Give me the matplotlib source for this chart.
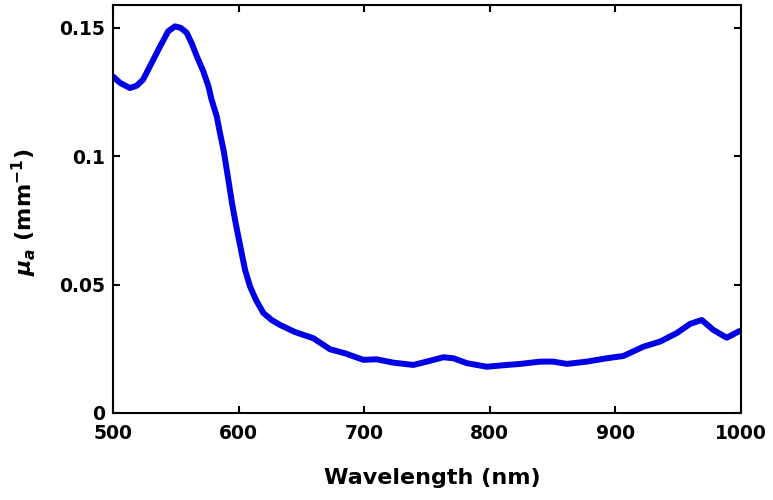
import matplotlib
matplotlib.use("Agg")
import matplotlib.pyplot as plt

# absorption spectrum
wavelength = [500, 505.6, 513.5, 518.9, 524, 530.8, 537.5, 544, 549.4, 553.9,
              558.7, 562.6, 566.7, 571.9, 576, 578.5, 582.6, 585.2, 588, 590.6,
              592.7, 594.8, 597.2, 599.8, 602.5, 605.2, 609.2, 613.9, 619.8, 626.4,
              633, 645, 659.6, 672.9, 685, 699.4, 710, 723.3, 739.3, 749.9,
              763.2, 771.2, 781.8, 797.8, 813.7, 824.3, 840.2, 850.8, 861.5, 877.4,
              893.3, 906.6, 922.5, 935.8, 949.1, 959.7, 969, 978.3, 988.9, 998.2,
              1000]
mua = [0.131, 0.1285, 0.1265, 0.1274, 0.1298, 0.1363, 0.1427, 0.1486, 0.1505, 0.1499,
       0.148, 0.144, 0.1389, 0.133, 0.1272, 0.122, 0.1155, 0.109, 0.1025, 0.0947,
       0.0882, 0.0817, 0.0752, 0.0687, 0.0622, 0.0557, 0.0492, 0.044, 0.0389, 0.0362,
       0.0343, 0.0315, 0.0291, 0.0248, 0.0232, 0.0207, 0.0209, 0.0196, 0.0187, 0.0200,
       0.0217, 0.0213, 0.0194, 0.0180, 0.0187, 0.0191, 0.0200, 0.0200, 0.0191, 0.0200,
       0.0213, 0.0222, 0.0258, 0.0278, 0.0311, 0.0347, 0.0362, 0.0323, 0.0293, 0.0317,
       0.0320]

xticks = [500, 600, 700, 800, 900, 1000]
yticks = [0, 0.05, 0.1, 0.15]
ytick_labels = ["0", "0.05", "0.1", "0.15"]

plt.rcParams['font.family'] = ['DejaVu Sans']
plt.rcParams['font.weight'] = 'bold'
plt.rcParams['mathtext.fontset'] = 'custom'
plt.rcParams['mathtext.rm'] = 'DejaVu Sans:bold'
plt.rcParams['mathtext.it'] = 'DejaVu Sans:italic:bold'
plt.rcParams['mathtext.bf'] = 'DejaVu Sans:bold'

fig = plt.figure(figsize=(7.73, 5.0), dpi=100)
ax = fig.add_axes([0.1462, 0.174, 0.812, 0.817])

ax.plot(wavelength, mua, color='#0000e6', linewidth=4.3,
        solid_capstyle='round', solid_joinstyle='round')

ax.set_xlim(500, 1000)
ax.set_ylim(0, 0.159)
ax.set_xticks(xticks)
ax.set_yticks(yticks)
ax.set_yticklabels(ytick_labels)

ax.tick_params(direction='in', length=5, width=1.5, top=True, right=True,
               labelsize=13.5)
ax.tick_params(axis='x', pad=8)
ax.tick_params(axis='y', pad=6)
for s in ax.spines.values():
    s.set_linewidth(1.5)

ax.set_xlabel("Wavelength (nm)", fontsize=16, fontweight='bold')
ax.set_ylabel(r"$\mu_a$ (mm$^{-1}$)", fontsize=16, fontweight='bold')
ax.xaxis.set_label_coords(0.509, -0.134)
ax.yaxis.set_label_coords(-0.118, 0.49)

fig.savefig("out.png", dpi=100)
